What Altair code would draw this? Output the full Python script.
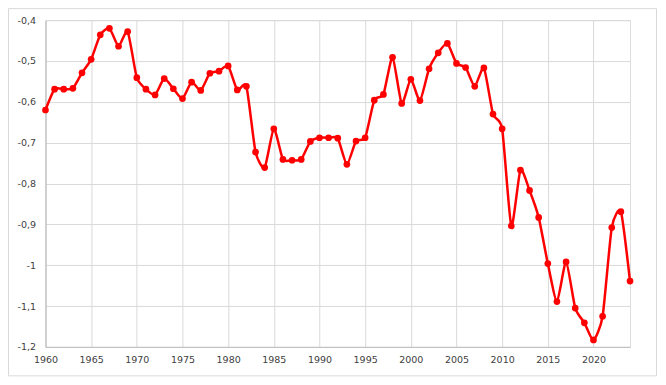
import altair as alt
import pandas as pd

years = list(range(1960, 2025))
values = [
    -0.620, -0.569, -0.569, -0.567, -0.529, -0.496, -0.436, -0.420, -0.464, -0.428,
    -0.541, -0.569, -0.583, -0.543, -0.568, -0.592, -0.552, -0.572, -0.530, -0.525,
    -0.512, -0.571, -0.562, -0.723, -0.761, -0.666, -0.741, -0.743, -0.741, -0.697,
    -0.688, -0.688, -0.689, -0.753, -0.696, -0.688, -0.596, -0.582, -0.491, -0.604,
    -0.545, -0.597, -0.519, -0.480, -0.457, -0.506, -0.516, -0.562, -0.517, -0.630,
    -0.666, -0.904, -0.767, -0.817, -0.883, -0.996, -1.089, -0.992, -1.105, -1.141,
    -1.183, -1.125, -0.908, -0.869, -1.039,
]
x_ticks = [1960, 1965, 1970, 1975, 1980, 1985, 1990, 1995, 2000, 2005, 2010, 2015, 2020]
y_ticks = [-1.2, -1.1, -1.0, -0.9, -0.8, -0.7, -0.6, -0.5, -0.4]

df = pd.DataFrame({"year": years, "value": values})

FONT = "DejaVu Sans"
GRID = "#d9d9d9"

x_enc = alt.X(
    "year:Q",
    scale=alt.Scale(domain=[1960, 2024], nice=False, zero=False),
    axis=alt.Axis(
        values=x_ticks, format="d", title=None, grid=True, gridColor=GRID,
        ticks=False, labelPadding=8, domainColor="#bfbfbf", labelFlush=False,
        labelOverlap=False,
        labelFont=FONT, labelFontSize=9.5, labelColor="#404040",
    ),
)
y_enc = alt.Y(
    "value:Q",
    scale=alt.Scale(domain=[-1.2, -0.4], nice=False, zero=False),
    axis=alt.Axis(
        values=y_ticks, title=None, grid=True, gridColor=GRID,
        ticks=False, labelPadding=10, domainColor="#bfbfbf", labelFlush=False,
        labelOverlap=False,
        labelExpr="replace(toString(datum.value), '.', ',')",
        labelFont=FONT, labelFontSize=9.5, labelColor="#404040",
    ),
)

line = alt.Chart(df).mark_line(
    color="#ff0000", strokeWidth=2.5, interpolate="cardinal", tension=0.4
).encode(x=x_enc, y=y_enc)

points = alt.Chart(df).mark_circle(
    color="#ff0000", size=45, opacity=1
).encode(x="year:Q", y="value:Q")

border = alt.Chart(pd.DataFrame({"a": [0]})).mark_rect(
    fill=None, stroke=GRID, strokeWidth=1
).encode(
    x=alt.value(-37), x2=alt.value(611.5),
    y=alt.value(-11.5), y2=alt.value(356),
)

chart = alt.layer(border, line, points).properties(
    width=585, height=327,
    autosize=alt.AutoSizeParams(type="none"),
    padding={"left": 37.5, "top": 12, "right": 28, "bottom": 31},
).configure_view(stroke=None).configure(background="white")

chart.save("out.html", embed_options={"renderer": "svg", "actions": False})
